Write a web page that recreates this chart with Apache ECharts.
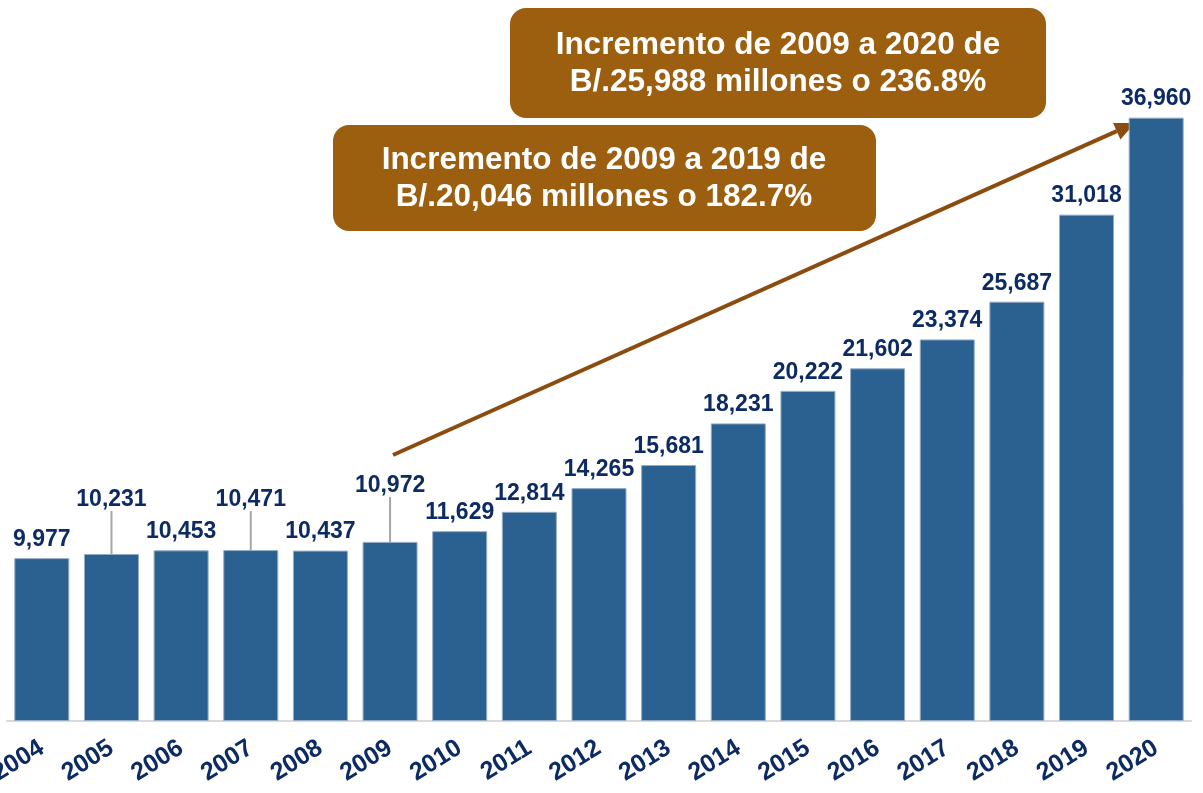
<!DOCTYPE html>
<html>
<head>
<meta charset="utf-8">
<script src="https://cdn.jsdelivr.net/npm/echarts@6/dist/echarts.min.js"></script>
<style>
  html, body { margin: 0; padding: 0; background: #fff; }
  #chart { width: 1203px; height: 793px; }
</style>
</head>
<body>
<div id="chart"></div>
<script>
const years = ['2004', '2005', '2006', '2007', '2008', '2009', '2010', '2011', '2012',
  '2013', '2014', '2015', '2016', '2017', '2018', '2019', '2020']
const values = [9977, 10231, 10453, 10471, 10437, 10972, 11629, 12814, 14265,
  15681, 18231, 20222, 21602, 23374, 25687, 31018, 36960]
// labels lifted above the bar with a leader line
const liftedLabels = { 1: -36, 3: -32, 5: -38 }
const notes = [
  'Incremento de 2009 a 2020 de\nB/.25,988 millones o 236.8%',
  'Incremento de 2009 a 2019 de\nB/.20,046 millones o 182.7%'
]

const navy = '#0c2a64'
const brown = '#9c5e0f'
const fontFamily = '"Liberation Sans", Arial, sans-serif'
const noteFont = 'bold 31.5px ' + fontFamily

// arrow from 2009 towards 2020
const a0 = [393, 455]
const a1 = [1135, 123]
const ang = Math.atan2(a1[1] - a0[1], a1[0] - a0[0])
const headLen = 20
const headW = 9
const bx = a1[0] - headLen * Math.cos(ang)
const by = a1[1] - headLen * Math.sin(ang)
const head = [
  a1,
  [bx + headW * Math.sin(ang), by - headW * Math.cos(ang)],
  [bx - headW * Math.sin(ang), by + headW * Math.cos(ang)]
]

const barData = values.map((v, i) => ({
  value: v,
  labelLine: { show: liftedLabels[i] !== undefined }
}))

const chart = echarts.init(document.getElementById('chart'))
chart.setOption({
  animation: false,
  grid: { left: 7, right: 12, top: 68, bottom: 72, outerBoundsMode: 'none', containLabel: false },
  xAxis: {
    type: 'category',
    data: years,
    axisTick: { show: false },
    axisLine: { lineStyle: { color: '#d9d9d9', width: 2 } },
    axisLabel: {
      rotate: 32,
      margin: 25,
      color: navy,
      fontWeight: 'bold',
      fontSize: 25,
      fontFamily: fontFamily
    }
  },
  yAxis: {
    type: 'value',
    min: 0,
    max: 40000,
    show: false,
    splitLine: { show: false }
  },
  series: [{
    type: 'bar',
    data: barData,
    barWidth: 55,
    itemStyle: { color: '#2b6190', borderColor: '#94adc6', borderWidth: 1 },
    label: {
      show: true,
      position: 'top',
      distance: 7,
      color: navy,
      fontWeight: 'bold',
      fontSize: 23,
      fontFamily: fontFamily,
      formatter: p => p.value.toLocaleString('en-US')
    },
    labelLine: { show: false, lineStyle: { color: '#a6a6a6', width: 2 } },
    labelLayout: p => liftedLabels[p.dataIndex] !== undefined ? { dy: liftedLabels[p.dataIndex] } : {}
  }],
  graphic: [
    {
      type: 'line',
      shape: { x1: a0[0], y1: a0[1], x2: bx, y2: by },
      style: { stroke: '#8b4c0f', lineWidth: 4 }
    },
    {
      type: 'polygon',
      shape: { points: head },
      style: { fill: '#8b4c0f' }
    },
    {
      type: 'group',
      left: 510, top: 8,
      children: [
        { type: 'rect', shape: { x: 0, y: 0, width: 536, height: 110, r: 16 }, style: { fill: brown } },
        {
          type: 'text', x: 268, y: 56,
          style: { text: notes[0], font: noteFont, fill: '#fff', align: 'center', verticalAlign: 'middle', lineHeight: 37 }
        }
      ]
    },
    {
      type: 'group',
      left: 333, top: 125,
      children: [
        { type: 'rect', shape: { x: 0, y: 0, width: 543, height: 106, r: 16 }, style: { fill: brown } },
        {
          type: 'text', x: 271, y: 54,
          style: { text: notes[1], font: noteFont, fill: '#fff', align: 'center', verticalAlign: 'middle', lineHeight: 37 }
        }
      ]
    }
  ]
})
</script>
</body>
</html>
